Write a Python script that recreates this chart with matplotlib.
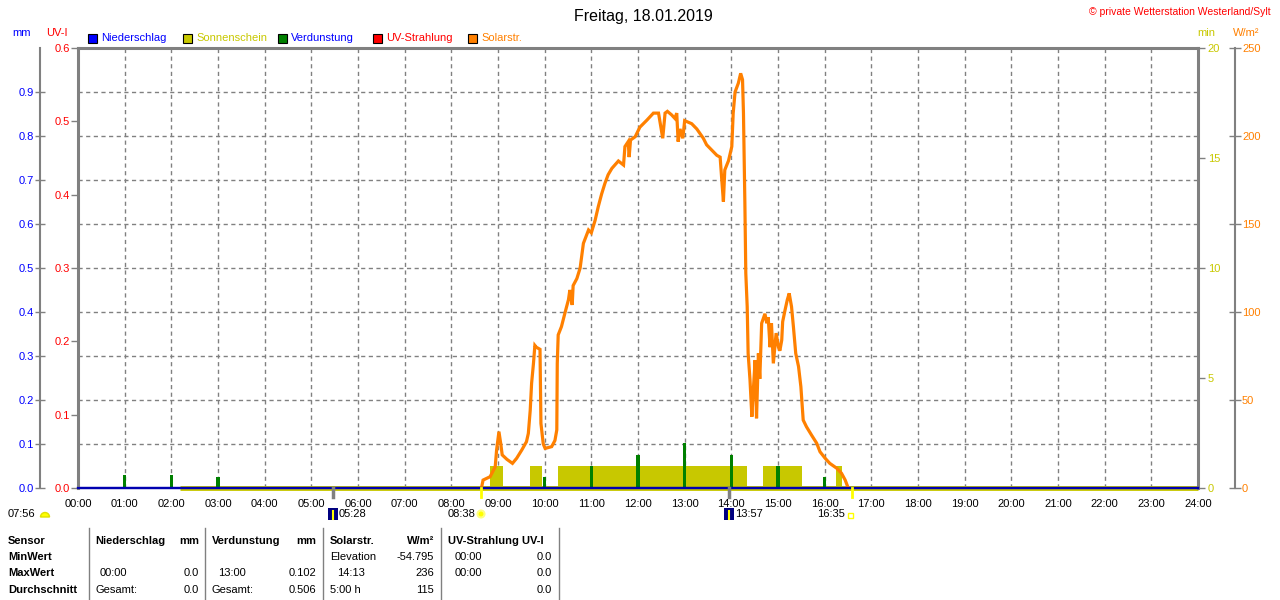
import matplotlib
matplotlib.use('Agg')
import matplotlib.pyplot as plt
from matplotlib.patches import Rectangle, Circle, Wedge
from matplotlib.lines import Line2D
from matplotlib.transforms import IdentityTransform

plt.rcParams['font.family'] = ['Liberation Sans', 'DejaVu Sans']

# ---------------- data ----------------
hours = list(range(25))
hour_labels = [f"{h:02d}:00" for h in hours]

solar_t = [8.65, 8.68, 8.83, 8.94, 8.97, 9.02, 9.06, 9.09, 9.19, 9.31, 9.40, 9.51, 9.61, 9.65,
           9.69, 9.72, 9.76, 9.79, 9.82, 9.90, 9.92, 9.97, 10.01, 10.15, 10.22, 10.26, 10.27,
           10.29, 10.36, 10.44, 10.51, 10.54, 10.59, 10.61, 10.69, 10.76, 10.83, 10.94, 11.00,
           11.08, 11.15, 11.22, 11.29, 11.36, 11.44, 11.58, 11.69, 11.72, 11.79, 11.81, 11.84,
           11.94, 12.04, 12.19, 12.33, 12.44, 12.53, 12.58, 12.63, 12.72, 12.79, 12.83, 12.86,
           12.90, 12.96, 13.00, 13.15, 13.26, 13.40, 13.47, 13.58, 13.69, 13.76, 13.79, 13.83,
           13.86, 13.94, 14.01, 14.04, 14.08, 14.15, 14.20, 14.24, 14.26, 14.29, 14.31, 14.34,
           14.36, 14.40, 14.44, 14.47, 14.51, 14.54, 14.58, 14.61, 14.65, 14.72, 14.76, 14.79,
           14.83, 14.86, 14.90, 14.96, 15.01, 15.04, 15.08, 15.10, 15.15, 15.20, 15.24, 15.29,
           15.33, 15.38, 15.44, 15.49, 15.54, 15.61, 15.72, 15.83, 15.90, 16.01, 16.11, 16.26,
           16.36, 16.44, 16.49]
solar_w = [0.6, 4.5, 6.4, 12, 21.6, 32, 25, 18.8, 16.3, 14, 16.9, 21.6, 26.3, 31,
           44, 59.5, 70.8, 81, 80, 78.8, 36.7, 25, 22.5, 23.5, 27, 33, 70.8,
           87, 91.7, 100, 107, 112.5, 104, 115, 119, 125, 139, 146.6, 145,
           152, 160, 167, 173, 178, 181.6, 185.8, 183.5, 194, 196.8, 188, 197.7,
           199.6, 205, 209, 213, 213, 198.7, 213, 214, 212, 210, 213, 196.8,
           204, 198.7, 208.7, 207, 204, 198.7, 195, 192, 189, 188, 177, 162.7,
           180.7, 186, 194, 213, 225, 230, 235.6, 232, 213, 162, 122, 103,
           76.5, 61.4, 40.5, 55, 72.7, 39.6, 76.5, 62, 93.6, 99, 93.6, 97,
           80, 93.6, 70.8, 88, 80, 78, 84, 94.5, 101, 107, 110.6, 103,
           91.7, 76.5, 69, 57.6, 38.6, 34.8, 30, 25.4, 20.6, 16.9, 14, 11.2,
           8.4, 4.5, 1]

sun_start = [8.83, 9.69, 10.28, 14.67, 16.24]
sun_end = [9.11, 9.95, 14.33, 15.51, 16.37]
sun_min = [1.0, 1.0, 1.0, 1.0, 1.0]
sun_band = [2.18, 24.0]

evap_t = [0, 1, 2, 3, 10, 11, 12, 13, 14, 15, 16]
evap_mm = [0.025, 0.03, 0.03, 0.025, 0.026, 0.05, 0.075, 0.102, 0.075, 0.05, 0.026]

precip_t = [0, 24]
precip_mm = [0.0, 0.0]
uv_t = [0, 24]
uv_i = [0.0, 0.0]

sun_events = [8.633, 16.583]
moon_events = [5.467, 13.95]

mm_ticks = [0.0, 0.1, 0.2, 0.3, 0.4, 0.5, 0.6, 0.7, 0.8, 0.9]
uv_ticks = [0.0, 0.1, 0.2, 0.3, 0.4, 0.5, 0.6]
min_ticks = [0, 5, 10, 15, 20]
w_ticks = [0, 50, 100, 150, 200, 250]

# ---------------- colours ----------------
GRAY = '#808080'
BLUE = '#0000ff'
NAVY = '#0000b0'
YEL = '#c8c800'
GREEN = '#008000'
RED = '#ff0000'
ORANGE = '#ff8000'

W, H = 1280, 600
fig = plt.figure(figsize=(12.8, 6), dpi=100)
rect = [78 / W, (H - 488) / H, 1120 / W, 440 / H]


def ftext(x, y, s, **kw):
    kw.setdefault('va', 'center')
    kw.setdefault('fontsize', 8)
    fig.text(x / W, 1 - y / H, s, **kw)


# base grid axes
base = fig.add_axes(rect)
base.set_xlim(0, 24)
base.set_ylim(0, 1)
base.set_xticks(hours)
base.set_xticklabels(hour_labels, fontsize=8)
base.tick_params(axis='x', length=0, pad=8)
base.set_yticks([v for v in mm_ticks if v > 0])
base.tick_params(axis='y', length=0, labelleft=False)
base.grid(True, color=GRAY, linestyle=(0, (3, 2.5)), linewidth=1)
for s in ['left', 'right', 'bottom']:
    base.spines[s].set_visible(False)
base.spines['top'].set_color(GRAY)
base.spines['top'].set_linewidth(2.2)

# sunshine (min)
ax_min = fig.add_axes(rect, sharex=base)
ax_min.patch.set_visible(False)
ax_min.set_ylim(0, 20)
ax_min.bar(sun_start, sun_min, width=[e - s for s, e in zip(sun_start, sun_end)],
           align='edge', color=YEL, linewidth=0)
ax_min.plot(sun_band, [0, 0], color=YEL, linewidth=3.5, clip_on=False, solid_capstyle='butt')
ax_min.yaxis.tick_right()
ax_min.set_yticks(min_ticks)
ax_min.set_yticklabels([str(v) for v in min_ticks], color=YEL, fontsize=8)
ax_min.tick_params(axis='y', direction='out', length=5, width=1, color=GRAY, pad=2)
ax_min.tick_params(axis='x', bottom=False, labelbottom=False)
for s in ['left', 'top', 'bottom']:
    ax_min.spines[s].set_visible(False)
ax_min.spines['right'].set_color(GRAY)
ax_min.spines['right'].set_linewidth(2.2)

# evaporation / precipitation (mm)
ax_mm = fig.add_axes(rect, sharex=base)
ax_mm.patch.set_visible(False)
ax_mm.spines['left'].set_position(('axes', -38 / 1120))
ax_mm.set_ylim(0, 1)
ax_mm.bar(evap_t, evap_mm, width=0.075, color=GREEN, linewidth=0)
ax_mm.plot(precip_t, precip_mm, color=NAVY, linewidth=1.6, clip_on=False)
ax_mm.set_yticks(mm_ticks)
ax_mm.set_yticklabels([f"{v:.1f}" for v in mm_ticks], color=BLUE, fontsize=8)
ax_mm.tick_params(axis='y', direction='inout', length=7, width=1, color=GRAY, pad=1)
ax_mm.tick_params(axis='x', bottom=False, labelbottom=False)
ax_mm.spines['left'].set_color(GRAY)
ax_mm.spines['left'].set_linewidth(1.5)
for s in ['right', 'top', 'bottom']:
    ax_mm.spines[s].set_visible(False)

# UV index
ax_uv = fig.add_axes(rect, sharex=base)
ax_uv.patch.set_visible(False)
ax_uv.set_ylim(0, 0.6)
ax_uv.set_yticks(uv_ticks)
ax_uv.set_yticklabels([f"{v:.1f}" for v in uv_ticks], color=RED, fontsize=8)
ax_uv.tick_params(axis='y', direction='out', length=5, width=1, color=GRAY, pad=1)
ax_uv.tick_params(axis='x', bottom=False, labelbottom=False)
ax_uv.spines['left'].set_color(GRAY)
ax_uv.spines['left'].set_linewidth(2.2)
for s in ['right', 'top', 'bottom']:
    ax_uv.spines[s].set_visible(False)
ax_uv.plot(uv_t, uv_i, color=RED, linewidth=0.5, clip_on=False, zorder=1)

# solar radiation
ax_w = fig.add_axes(rect, sharex=base)
ax_w.patch.set_visible(False)
ax_w.spines['right'].set_position(('axes', 1 + 37 / 1120))
ax_w.set_ylim(0, 250)
ax_w.plot(solar_t, solar_w, color=ORANGE, linewidth=2.3, solid_joinstyle='miter')
ax_w.yaxis.tick_right()
ax_w.set_yticks(w_ticks)
ax_w.set_yticklabels([str(v) for v in w_ticks], color=ORANGE, fontsize=8)
ax_w.tick_params(axis='y', direction='inout', length=8, width=1, color=GRAY, pad=1)
ax_w.tick_params(axis='x', bottom=False, labelbottom=False)
ax_w.spines['right'].set_color(GRAY)
ax_w.spines['right'].set_linewidth(1.5)
for s in ['left', 'top', 'bottom']:
    ax_w.spines[s].set_visible(False)
# precipitation line on top at the baseline
ax_w.axhline(0, color=NAVY, linewidth=1.6, clip_on=False)

# sun / moon markers below the axis
tr = ax_w.get_xaxis_transform()
for t in sun_events:
    ax_w.plot([t, t], [0, -9 / 440], color='#ffff00', linewidth=2, transform=tr, clip_on=False)
for t in moon_events:
    ax_w.plot([t, t], [0, -9 / 440], color=GRAY, linewidth=2.5, transform=tr, clip_on=False)

# ---------------- header texts ----------------
ftext(643, 16, 'Freitag, 18.01.2019', ha='center', fontsize=11.5)
ftext(1271, 12, '\u00a9 private Wetterstation Westerland/Sylt', ha='right', color=RED, fontsize=7.5)
ftext(22, 33, 'mm', ha='center', color=BLUE)
ftext(57, 33, 'UV-I', ha='center', color=RED)
ftext(1206, 33, 'min', ha='center', color=YEL)
ftext(1246, 33, 'W/m\u00b2', ha='center', color=ORANGE)

legend_items = [(88, 'Niederschlag', BLUE, BLUE),
                (183, 'Sonnenschein', YEL, YEL),
                (278, 'Verdunstung', GREEN, BLUE),
                (373, 'UV-Strahlung', RED, RED),
                (468, 'Solarstr.', ORANGE, ORANGE)]
for x0, lab, fc, tc in legend_items:
    fig.add_artist(Rectangle((x0 / W, 1 - 43 / H), 9 / W, 9 / H, transform=fig.transFigure,
                             facecolor=fc, edgecolor='black', linewidth=0.8))
    ftext(x0 + 13, 38, lab, color=tc)

# ---------------- below axis: day/moon info ----------------
idt = IdentityTransform()
ftext(8, 514, '07:56', ha='left')
fig.add_artist(Wedge((45, H - 517), 4.5, 0, 180, transform=idt, facecolor='#ffff00', edgecolor='#e0e000'))

fig.add_artist(Rectangle((328, H - 520), 10, 12, transform=idt, facecolor='#000080', edgecolor='none'))
fig.add_artist(Line2D([333, 333], [H - 519, H - 511], transform=idt, color='#ffff00', linewidth=1.5))
ftext(339, 514, '05:28', ha='left')

ftext(475, 514, '08:38', ha='right')
fig.add_artist(Circle((481, H - 514), 3.5, transform=idt, facecolor='#ffff00', edgecolor='#ffff80', linewidth=1.5))

fig.add_artist(Rectangle((724, H - 520), 10, 12, transform=idt, facecolor='#000080', edgecolor='none'))
fig.add_artist(Line2D([729, 729], [H - 519, H - 511], transform=idt, color='#ffff00', linewidth=1.5))
ftext(735, 514, '13:57', ha='left')

ftext(845, 514, '16:35', ha='right')
fig.add_artist(Rectangle((848, H - 518), 5, 5, transform=idt, facecolor='none', edgecolor='#ffff00', linewidth=1))

# ---------------- table ----------------
for xs in [89, 205, 323, 441, 559]:
    fig.add_artist(Line2D([xs / W, xs / W], [1 - 528 / H, 0], transform=fig.transFigure,
                          color=GRAY, linewidth=1))

rows_y = [541, 557, 573, 590]
ftext(8, rows_y[0], 'Sensor', fontweight='bold')
ftext(8, rows_y[1], 'MinWert', fontweight='bold')
ftext(8, rows_y[2], 'MaxWert', fontweight='bold')
ftext(8, rows_y[3], 'Durchschnitt', fontweight='bold')

ftext(95, rows_y[0], 'Niederschlag', fontweight='bold')
ftext(199, rows_y[0], 'mm', fontweight='bold', ha='right')
ftext(212, rows_y[0], 'Verdunstung', fontweight='bold')
ftext(316, rows_y[0], 'mm', fontweight='bold', ha='right')
ftext(330, rows_y[0], 'Solarstr.', fontweight='bold')
ftext(434, rows_y[0], 'W/m\u00b2', fontweight='bold', ha='right')
ftext(448, rows_y[0], 'UV-Strahlung UV-I', fontweight='bold')

ftext(330, rows_y[1], 'Elevation')
ftext(434, rows_y[1], '-54.795', ha='right')
ftext(455, rows_y[1], '00:00')
ftext(552, rows_y[1], '0.0', ha='right')

ftext(100, rows_y[2], '00:00')
ftext(199, rows_y[2], '0.0', ha='right')
ftext(218, rows_y[2], '13:00')
ftext(316, rows_y[2], '0.102', ha='right')
ftext(337, rows_y[2], '14:13')
ftext(434, rows_y[2], '236', ha='right')
ftext(455, rows_y[2], '00:00')
ftext(552, rows_y[2], '0.0', ha='right')

ftext(95, rows_y[3], 'Gesamt:')
ftext(199, rows_y[3], '0.0', ha='right')
ftext(212, rows_y[3], 'Gesamt:')
ftext(316, rows_y[3], '0.506', ha='right')
ftext(330, rows_y[3], '5:00 h')
ftext(434, rows_y[3], '115', ha='right')
ftext(552, rows_y[3], '0.0', ha='right')

fig.savefig('out.png', dpi=100)
